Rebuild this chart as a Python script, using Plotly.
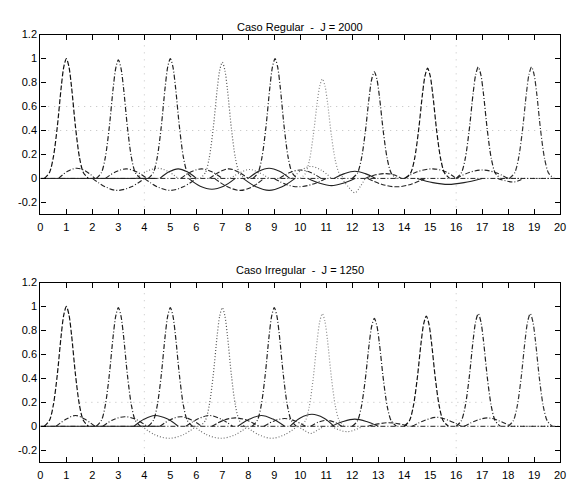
import plotly.graph_objects as go

# ---------------- data ----------------
x_ticks = list(range(0, 21))
y_tick_vals = [-0.2, 0, 0.2, 0.4, 0.6, 0.8, 1.0, 1.2]
y_tick_text = ["-0.2", "0", "0.2", "0.4", "0.6", "0.8", "1", "1.2"]

titles = ["Caso Regular  -  J = 2000", "Caso Irregular  -  J = 1250"]

# main peaks: centres and heights
top_peak_x = [1.0, 3.0, 5.0, 7.0, 9.03, 10.85, 12.85, 14.9, 16.85, 18.9]
top_peak_h = [1.0, 0.99, 1.0, 0.97, 1.0, 0.83, 0.89, 0.92, 0.93, 0.93]
top_peak_style = ["dash", "dashdot", "dashdot", "dot", "dashdot", "dot", "dashdot", "dash", "dashdot", "dashdot"]
top_peak_color = ["#111", "#222", "#222", "#555", "#222", "#888", "#222", "#111", "#222", "#333"]

bot_peak_x = [1.0, 3.0, 5.0, 7.0, 9.0, 10.85, 12.85, 14.85, 16.85, 18.85]
bot_peak_h = [1.0, 0.99, 0.99, 0.99, 0.99, 0.94, 0.9, 0.92, 0.94, 0.94]
bot_peak_style = ["dash", "dashdot", "dashdot", "dot", "dashdot", "dot", "dashdot", "dash", "dashdot", "dashdot"]
bot_peak_color = ["#111", "#222", "#222", "#555", "#222", "#888", "#222", "#111", "#222", "#333"]

# shape of a peak, read from the first peak (offset from centre, fraction of height)
peak_dx = [-0.85, -0.65, -0.5, -0.35, -0.2, -0.1, 0.0, 0.1, 0.2, 0.35, 0.5, 0.65, 0.85]
peak_shape = [0.0, 0.05, 0.18, 0.43, 0.76, 0.93, 1.0, 0.93, 0.76, 0.43, 0.18, 0.05, 0.0]

# small lobes (top)
top_lobe_x = [
    [0.7, 1.05, 1.4, 1.75, 2.1], [2.5, 2.9, 3.3, 3.7, 4.1], [3.7, 4.1, 4.5, 4.9, 5.3],
    [4.6, 4.95, 5.3, 5.65, 6.0], [5.4, 5.8, 6.2, 6.6, 7.0], [6.5, 6.9, 7.25, 7.6, 8.0],
    [7.3, 7.7, 8.05, 8.4, 8.8], [8.0, 8.4, 8.8, 9.2, 9.6], [9.2, 9.6, 10.0, 10.4, 10.8],
    [9.7, 10.05, 10.4, 10.8, 11.2], [11.3, 11.7, 12.1, 12.5, 12.9], [12.5, 12.9, 13.3, 13.6, 13.9],
    [14.0, 14.5, 15.1, 15.6, 16.0], [16.0, 16.5, 17.0, 17.5, 18.0],
    [2.0, 2.5, 2.95, 3.5, 4.0], [4.0, 4.5, 5.0, 5.5, 6.0], [5.7, 6.15, 6.6, 7.05, 7.5],
    [6.7, 7.2, 7.7, 8.15, 8.6], [7.8, 8.3, 8.8, 9.3, 9.8], [9.0, 9.45, 9.9, 10.45, 11.0],
    [10.3, 10.75, 11.2, 11.65, 12.1], [11.6, 11.85, 12.1, 12.3, 12.5], [12.6, 13.15, 13.7, 14.25, 14.8],
    [14.5, 15.1, 15.7, 16.3, 17.0], [17.6, 17.9, 18.2, 18.4, 18.6],
]
top_lobe_y = [
    [0, 0.06, 0.085, 0.06, 0], [0, 0.055, 0.08, 0.055, 0], [0, 0.06, 0.085, 0.06, 0],
    [0, 0.055, 0.08, 0.055, 0], [0, 0.055, 0.08, 0.055, 0], [0, 0.055, 0.08, 0.055, 0],
    [0, 0.05, 0.075, 0.05, 0], [0, 0.06, 0.085, 0.06, 0], [0, 0.05, 0.07, 0.05, 0],
    [0, 0.07, 0.1, 0.07, 0], [0, 0.04, 0.06, 0.04, 0], [0, 0.03, 0.04, 0.03, 0],
    [0, 0.055, 0.08, 0.055, 0], [0, 0.05, 0.07, 0.05, 0],
    [0, -0.07, -0.1, -0.07, 0], [0, -0.07, -0.1, -0.07, 0], [0, -0.065, -0.09, -0.065, 0],
    [0, -0.07, -0.1, -0.07, 0], [0, -0.07, -0.1, -0.07, 0], [0, -0.05, -0.07, -0.05, 0],
    [0, -0.04, -0.06, -0.04, 0], [0, -0.07, -0.12, -0.07, 0], [0, -0.05, -0.07, -0.05, 0],
    [0, -0.035, -0.05, -0.035, 0], [0, -0.02, -0.03, -0.02, 0],
]
top_lobe_style = ["dashdot", "dashdot", "dot", "solid", "dashdot", "dash", "dot", "solid", "dashdot",
                  "dot", "solid", "dash", "dashdot", "dashdot",
                  "dashdot", "dashdot", "solid", "dash", "solid", "dashdot", "solid", "dot", "dash",
                  "solid", "dashdot"]

# small lobes (bottom)
bot_lobe_x = [
    [0.6, 1.0, 1.35, 1.7, 2.1], [2.4, 2.8, 3.25, 3.7, 4.1], [3.6, 4.0, 4.4, 4.9, 5.3],
    [4.6, 5.0, 5.4, 5.8, 6.2], [5.6, 6.05, 6.5, 6.95, 7.4], [6.6, 7.05, 7.5, 7.95, 8.4],
    [7.6, 8.05, 8.5, 8.95, 9.4], [8.6, 9.0, 9.4, 9.8, 10.2], [9.6, 10.0, 10.45, 10.9, 11.3],
    [11.2, 11.65, 12.1, 12.55, 13.0], [12.6, 13.0, 13.4, 13.8, 14.2], [14.3, 14.8, 15.25, 15.7, 16.2],
    [16.3, 16.8, 17.2, 17.6, 18.1], [10.4, 10.7, 11.0, 11.3, 11.6],
    [3.9, 4.4, 4.95, 5.5, 6.0], [5.9, 6.4, 6.95, 7.5, 8.0], [7.9, 8.4, 8.9, 9.4, 9.9],
    [9.9, 10.2, 10.4, 10.6, 10.9], [11.2, 11.5, 11.8, 12.1, 12.4],
]
bot_lobe_y = [
    [0, 0.06, 0.09, 0.06, 0], [0, 0.055, 0.08, 0.055, 0], [0, 0.06, 0.09, 0.06, 0],
    [0, 0.055, 0.08, 0.055, 0], [0, 0.06, 0.09, 0.06, 0], [0, 0.05, 0.07, 0.05, 0],
    [0, 0.06, 0.09, 0.06, 0], [0, 0.045, 0.065, 0.045, 0], [0, 0.07, 0.1, 0.07, 0],
    [0, 0.04, 0.06, 0.04, 0], [0, 0.02, 0.03, 0.02, 0], [0, 0.05, 0.075, 0.05, 0],
    [0, 0.05, 0.07, 0.05, 0], [0, 0.035, 0.05, 0.035, 0],
    [0, -0.07, -0.1, -0.07, 0], [0, -0.07, -0.1, -0.07, 0], [0, -0.07, -0.1, -0.07, 0],
    [0, -0.04, -0.06, -0.04, 0], [0, -0.03, -0.045, -0.03, 0],
]
bot_lobe_style = ["dashdot", "dashdot", "solid", "dashdot", "dashdot", "dash", "solid", "dashdot",
                  "solid", "solid", "dash", "dashdot", "dashdot", "dashdot",
                  "dot", "dot", "dot", "dot", "dot"]

# baselines (x start, x end, style)
top_base = [(0, 4.5, "solid"), (0, 20, "dashdot"), (17.8, 19.8, "dot")]
bot_base = [(0, 4.6, "solid"), (0, 20, "dashdot"), (18.0, 19.7, "dot")]

# faint dotted guide lines seen in the scan
top_hguides = [(0.6, 0.3, 15.0), (0.4, 0.3, 19.6)]
top_vguides = [4.0, 16.0]
bot_hguides = [(0.2, 1.5, 17.0)]
bot_vguides = [4.0, 16.0]

# ---------------- figure ----------------
DASHES = {"dash": "5px,2px", "dashdot": "5px,2px,1px,2px", "dot": "1px,2px", "solid": "solid"}

fig = go.Figure()
W, H = 574, 481
x0, x1 = 38 / W, 566 / W
dom_top = [1 - 211 / H, 1 - 29 / H]
dom_bot = [1 - 462 / H, 1 - 280 / H]


def add_panel(xa, ya, peak_x, peak_h, pstyle, pcolor, lobe_x, lobe_y, lstyle, base, hg, vg):
    for y, a, b in hg:
        fig.add_trace(go.Scatter(x=[a, b], y=[y, y], mode="lines", xaxis=xa, yaxis=ya,
                                 line=dict(color="#bdbdbd", width=1, dash="1px,5px"), showlegend=False))
    for v in vg:
        fig.add_trace(go.Scatter(x=[v, v], y=[-0.3, 1.2], mode="lines", xaxis=xa, yaxis=ya,
                                 line=dict(color="#c4c4c4", width=1, dash="1px,6px"), showlegend=False))
    for a, b, s in base:
        fig.add_trace(go.Scatter(x=[a, b], y=[0, 0], mode="lines", xaxis=xa, yaxis=ya,
                                 line=dict(color="#222", width=1, dash=DASHES[s]), showlegend=False))
    for lx, ly, s in zip(lobe_x, lobe_y, lstyle):
        col = "#6a6a6a" if s == "dot" else "#222"
        fig.add_trace(go.Scatter(x=lx, y=ly, mode="lines", xaxis=xa, yaxis=ya,
                                 line=dict(color=col, width=1.1, dash=DASHES[s], shape="spline", smoothing=1.0),
                                 showlegend=False))
    for c, h, s, col in zip(peak_x, peak_h, pstyle, pcolor):
        fig.add_trace(go.Scatter(x=[c + d for d in peak_dx], y=[h * v for v in peak_shape],
                                 mode="lines", xaxis=xa, yaxis=ya,
                                 line=dict(color=col, width=1.2, dash=DASHES[s], shape="spline", smoothing=0.8),
                                 showlegend=False))


add_panel("x", "y", top_peak_x, top_peak_h, top_peak_style, top_peak_color,
          top_lobe_x, top_lobe_y, top_lobe_style, top_base, top_hguides, top_vguides)
add_panel("x2", "y2", bot_peak_x, bot_peak_h, bot_peak_style, bot_peak_color,
          bot_lobe_x, bot_lobe_y, bot_lobe_style, bot_base, bot_hguides, bot_vguides)

FONT = "Liberation Sans, Arial, sans-serif"
axis_common = dict(showline=True, linecolor="black", linewidth=1.3, mirror="ticks",
                   ticks="inside", ticklen=5, tickcolor="black", showgrid=False, zeroline=False,
                   tickfont=dict(family=FONT, size=11, color="black"))

fig.update_layout(
    width=W, height=H,
    margin=dict(l=0, r=0, t=0, b=0),
    paper_bgcolor="white", plot_bgcolor="white",
    xaxis=dict(domain=[x0, x1], range=[0, 20], tickvals=x_ticks, anchor="y", ticklabelstandoff=2, **axis_common),
    yaxis=dict(domain=dom_top, range=[-0.3, 1.2], tickvals=y_tick_vals, ticktext=y_tick_text,
               anchor="x", **axis_common),
    xaxis2=dict(domain=[x0, x1], range=[0, 20], tickvals=x_ticks, anchor="y2", ticklabelstandoff=2, **axis_common),
    yaxis2=dict(domain=dom_bot, range=[-0.3, 1.2], tickvals=y_tick_vals, ticktext=y_tick_text,
                anchor="x2", **axis_common),
    annotations=[
        dict(text=titles[0], x=(x0 + x1) / 2, y=1 - 13 / H, xref="paper", yref="paper",
             showarrow=False, font=dict(family=FONT, size=11, color="black")),
        dict(text=titles[1], x=(x0 + x1) / 2, y=1 - 267 / H, xref="paper", yref="paper",
             showarrow=False, font=dict(family=FONT, size=11, color="black")),
    ],
)

fig.write_html("out.html")
